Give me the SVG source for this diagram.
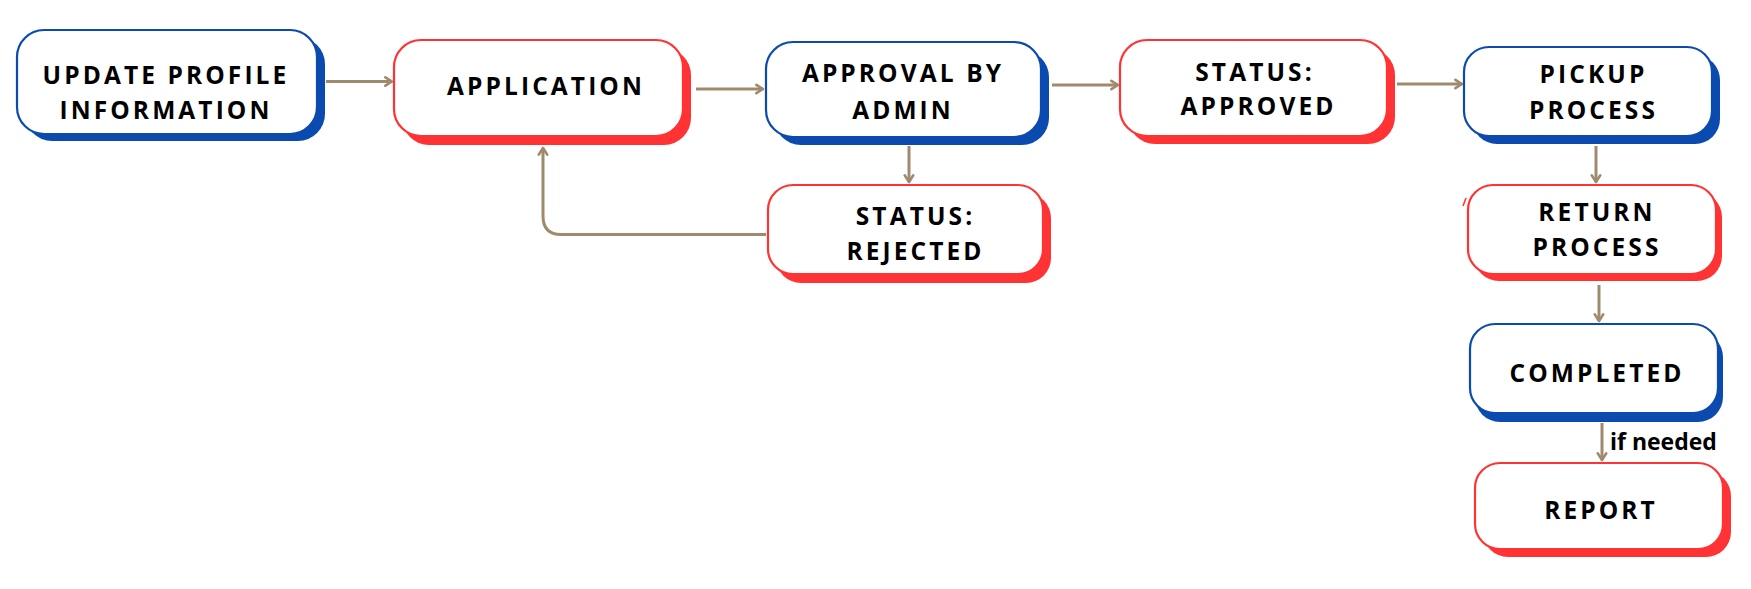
<svg xmlns="http://www.w3.org/2000/svg" width="1751" height="589" viewBox="0 0 1751 589">
<defs>
<style>
.sb{fill:#0b4bb0}
.sr{fill:#ff3333}
.bb{fill:#fff;stroke:#0b4bb0;stroke-width:2.2}
.br{fill:#fff;stroke:#ff3333;stroke-width:2.2}
.t{font-family:"Open Sans","Liberation Sans",sans-serif;font-weight:700;font-size:24.5px;letter-spacing:3.1px;fill:#000;text-anchor:middle}
.c{fill:none;stroke:#a08a6e;stroke-width:3}
.l{font-family:"Open Sans","Liberation Sans",sans-serif;font-weight:700;font-size:23px;fill:#000}
</style>
<marker id="ah" viewBox="0 0 10 10" refX="8.5" refY="5" markerWidth="12" markerHeight="12" orient="auto" markerUnits="userSpaceOnUse">
<path d="M3,1.5 L8.5,5 L3,8.5" fill="none" stroke="#a08a6e" stroke-width="2.2" stroke-linecap="round" stroke-linejoin="round"/>
</marker>
</defs>
<rect width="1751" height="589" fill="#fff"/>
<g id="connectors">
<line class="c" x1="326" y1="81.5" x2="392" y2="81.5" marker-end="url(#ah)"/>
<line class="c" x1="696" y1="89" x2="763" y2="89" marker-end="url(#ah)"/>
<line class="c" x1="1052" y1="85" x2="1118" y2="85" marker-end="url(#ah)"/>
<line class="c" x1="1397" y1="84" x2="1462" y2="84" marker-end="url(#ah)"/>
<line class="c" x1="909" y1="146" x2="909" y2="182" marker-end="url(#ah)"/>
<path class="c" d="M766,234.5 L561,234.5 Q543,234.5 543,216 L543,148" marker-end="url(#ah)"/>
<line class="c" x1="1596" y1="146" x2="1596" y2="182" marker-end="url(#ah)"/>
<line class="c" x1="1599" y1="285" x2="1599" y2="321" marker-end="url(#ah)"/>
<line class="c" x1="1602" y1="423" x2="1602" y2="460" marker-end="url(#ah)"/>
<text class="l" x="1610" y="450">if needed</text>
</g>
<g id="n1">
<rect class="sb" x="25" y="37" width="300" height="104" rx="27"/>
<rect class="bb" x="17" y="30" width="300" height="104" rx="27"/>
<text class="t" x="166" y="83.5">UPDATE PROFILE</text>
<text class="t" x="166" y="118.5">INFORMATION</text>
</g>
<g id="n2">
<rect class="sr" x="402" y="48" width="289" height="97" rx="27"/>
<rect class="br" x="394" y="40" width="289" height="96" rx="27"/>
<text class="t" x="546" y="95">APPLICATION</text>
</g>
<g id="n3">
<rect class="sb" x="774" y="50" width="275" height="95" rx="27"/>
<rect class="bb" x="766" y="42" width="275" height="95" rx="27"/>
<text class="t" x="903" y="81.5">APPROVAL BY</text>
<text class="t" x="903" y="118.5">ADMIN</text>
</g>
<g id="n4">
<rect class="sr" x="1128" y="48" width="267" height="96" rx="27"/>
<rect class="br" x="1120" y="40" width="267" height="96" rx="27"/>
<text class="t" x="1255" y="80.5">STATUS:</text>
<text class="t" x="1258.5" y="115">APPROVED</text>
</g>
<g id="n5">
<rect class="sb" x="1472" y="55" width="248" height="89" rx="25"/>
<rect class="bb" x="1464" y="47" width="248" height="89" rx="25"/>
<text class="t" x="1593.5" y="82.5">PICKUP</text>
<text class="t" x="1593.5" y="118.5">PROCESS</text>
</g>
<g id="n6">
<rect class="sr" x="776" y="193" width="275" height="90" rx="25"/>
<rect class="br" x="768" y="185" width="275" height="89" rx="25"/>
<text class="t" x="915.5" y="224.5">STATUS:</text>
<text class="t" x="915.5" y="260">REJECTED</text>
</g>
<g id="n7">
<path d="M1463,206 L1466,198" stroke="#ff3333" stroke-width="1.6" fill="none"/>
<rect class="sr" x="1474" y="192" width="248" height="89" rx="25"/>
<rect class="br" x="1468" y="185" width="248" height="89" rx="25"/>
<text class="t" x="1597" y="221">RETURN</text>
<text class="t" x="1597" y="255.5">PROCESS</text>
</g>
<g id="n8">
<rect class="sb" x="1475" y="332" width="248" height="90" rx="25"/>
<rect class="bb" x="1470" y="324" width="248" height="89" rx="25"/>
<text class="t" x="1597" y="382">COMPLETED</text>
</g>
<g id="n9">
<rect class="sr" x="1483" y="471" width="248" height="86" rx="25"/>
<rect class="br" x="1475" y="463" width="248" height="86" rx="25"/>
<text class="t" x="1601" y="519">REPORT</text>
</g>
</svg>
